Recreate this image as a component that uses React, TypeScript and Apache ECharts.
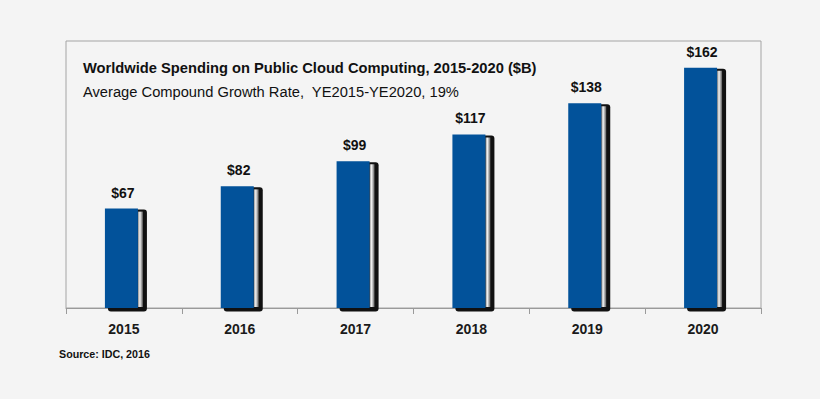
import React, { useEffect, useRef } from "react";
import * as echarts from "echarts";

const years = ["2015", "2016", "2017", "2018", "2019", "2020"];
const spending = [67, 82, 99, 117, 138, 162];
const titleText = "Worldwide Spending on Public Cloud Computing, 2015-2020 ($B)";
const subtitleText = "Average Compound Growth Rate,  YE2015-YE2020, 19%";
const sourceText = "Source: IDC, 2016";

const FONT = "'Liberation Sans', Arial, sans-serif";

export default function App() {
  const ref = useRef<HTMLDivElement>(null);
  useEffect(() => {
    if (!ref.current) return;
    const chart = echarts.init(ref.current, undefined, { renderer: "svg" });
    const option: any = {
      animation: false,
      backgroundColor: "#f4f4f4",
      title: [
        {
          text: titleText,
          left: 78,
          top: 55,
          textStyle: { fontFamily: FONT, fontSize: 14.7, fontWeight: "bold", color: "#111" },
        },
        {
          text: subtitleText,
          left: 78,
          top: 79,
          textStyle: { fontFamily: FONT, fontSize: 14.7, fontWeight: "normal", color: "#111" },
        },
        {
          text: sourceText,
          left: 54,
          top: 343,
          textStyle: { fontFamily: FONT, fontSize: 10.7, fontWeight: "bold", color: "#111" },
        },
      ],
      grid: {
        left: 66,
        right: 59,
        top: 41,
        bottom: 91,
        show: true,
        borderColor: "#a4a4a4",
        borderWidth: 1,
        backgroundColor: "transparent",
      },
      xAxis: {
        type: "category",
        data: years,
        boundaryGap: true,
        axisLine: { show: true, lineStyle: { color: "#9a9a9a", width: 1 } },
        axisTick: { show: true, length: 6, lineStyle: { color: "#9a9a9a" } },
        axisLabel: {
          fontFamily: FONT,
          fontSize: 14,
          fontWeight: "bold",
          color: "#1a1a1a",
          margin: 14,
        },
      },
      yAxis: {
        type: "value",
        min: 0,
        max: 180,
        show: false,
        splitLine: { show: false },
      },
      series: [
        {
          type: "custom",
          data: spending.map((v, i) => [i, v]),
          encode: { x: 0, y: 1 },
          renderItem: (params: any, api: any) => {
            const top = api.coord([api.value(0), api.value(1)]);
            const base = api.coord([api.value(0), 0]);
            const cx = top[0];
            const left = cx - 19;
            const w = 33;
            const h = base[1] - top[1];
            return {
              type: "group",
              children: [
                {
                  type: "rect",
                  shape: { x: left + 3, y: top[1] + 1, width: w + 6, height: h + 2.5, r: 3 },
                  style: { fill: "#111" },
                },
                {
                  type: "rect",
                  shape: { x: left + w, y: top[1] + 3, width: 5, height: h - 4 },
                  style: {
                    fill: new echarts.graphic.LinearGradient(0, 0, 1, 0, [
                      { offset: 0, color: "#8c8c8c" },
                      { offset: 0.4, color: "#f2f2f2" },
                      { offset: 1, color: "#5a5a5a" },
                    ]),
                  },
                },
                {
                  type: "rect",
                  shape: { x: left, y: top[1], width: w, height: h },
                  style: { fill: "#02529a" },
                },
                {
                  type: "text",
                  x: cx - 1,
                  y: top[1] - 16,
                  style: {
                    text: "$" + api.value(1),
                    textAlign: "center",
                    textVerticalAlign: "middle",
                    font: "bold 14px " + FONT,
                    fill: "#111",
                  },
                },
              ],
            };
          },
        },
      ],
    };
    chart.setOption(option);
    return () => chart.dispose();
  }, []);
  return (
    <div
      ref={ref}
      style={{ position: "fixed", left: 0, top: 0, width: 820, height: 399 }}
    />
  );
}
